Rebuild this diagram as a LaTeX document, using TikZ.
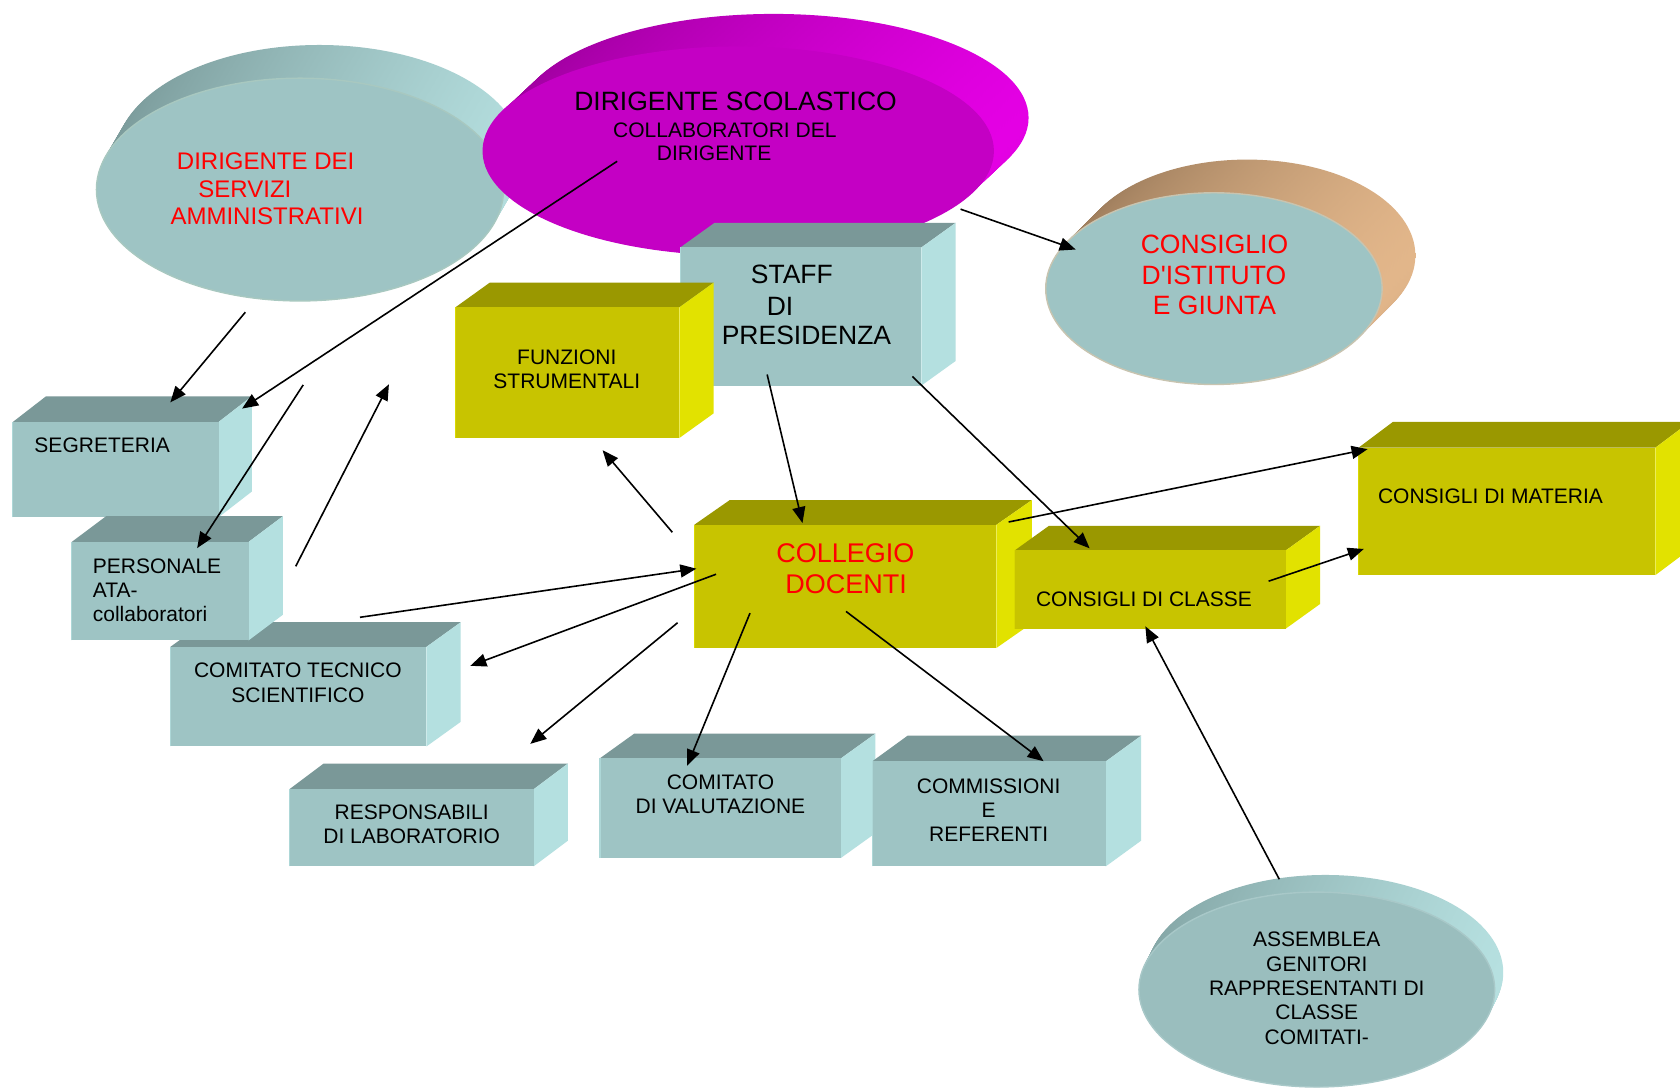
\documentclass[tikz,border=0pt]{standalone}
\usepackage{fontspec}
\setmainfont{Liberation Sans}
\usetikzlibrary{arrows.meta}
\definecolor{tF}{HTML}{9EC4C4}
\definecolor{tT}{HTML}{7A9898}
\definecolor{tS}{HTML}{B4E0E0}
\definecolor{yF}{HTML}{C8C400}
\definecolor{yT}{HTML}{9A9800}
\definecolor{yS}{HTML}{E2E200}
\definecolor{tealD}{HTML}{7A9A9A}
\definecolor{tealL}{HTML}{B4DEDE}
\definecolor{tealF}{HTML}{9EC4C4}
\definecolor{tealB}{HTML}{A8C8C0}
\definecolor{magD}{HTML}{9E009E}
\definecolor{magL}{HTML}{E400E4}
\definecolor{magF}{HTML}{C400C4}
\definecolor{magB}{HTML}{C400C4}
\definecolor{brnD}{HTML}{9A7A5A}
\definecolor{brnL}{HTML}{E2B68A}
\definecolor{brnF}{HTML}{9EC4C4}
\definecolor{brnB}{HTML}{C8C4B0}
\definecolor{assD}{HTML}{84A6A6}
\definecolor{assL}{HTML}{B6E0E0}
\definecolor{assF}{HTML}{9ABEBE}
\definecolor{assB}{HTML}{A8C8C8}
\definecolor{redtxt}{HTML}{FF0000}
% 3D box: x1,y1,x2,y2,dx,dy(up),palette
\newcommand\boxthreed[7]{%
  \fill[#7T] (#1,#2) -- (#1+#5,#2-#6) -- (#3+#5,#2-#6) -- (#3,#2) -- cycle;
  \fill[#7S] (#3,#2) -- (#3+#5,#2-#6) -- (#3+#5,#4-#6) -- (#3,#4) -- cycle;
  \fill[#7F] (#1,#2) rectangle (#3,#4);
  \draw[#7S!70!#7F, line width=1.2pt] (#1,#4) -- (#1,#2);
}
% cylinder ellipse: cx,cy,rx,ry,dx,dy(up),palette
\newcommand\cylell[7]{%
  \foreach \i in {0,...,24}{%
    \shade[left color=#7D, right color=#7L]
      ({#1+#5*(1-\i/24)},{#2-#6*(1-\i/24)}) ellipse [x radius=#3, y radius=#4];
  }
  \fill[#7F, draw=#7B, line width=1.4pt] (#1,#2) ellipse [x radius=#3, y radius=#4];
}
\begin{document}
\begin{tikzpicture}[x=1.0714pt,y=-1.0709pt,
  lblS/.style={inner sep=0pt, anchor=base, font=\fontsize{21}{24}\selectfont},
  lblB/.style={inner sep=0pt, anchor=base, font=\fontsize{26.5}{30}\selectfont},
  lblW/.style={anchor=base west},
  redt/.style={text=redtxt},
  arr/.style={-{Triangle[length=16pt,width=13pt]}, line width=1.6pt, black}]
\useasboundingbox (0,0) rectangle (1568,1016);
\fill[white] (0,0) rectangle (1568,1016);

% ellipses
\cylell{280}{177}{190}{104}{18}{31}{teal}
\cylell{689}{141}{238}{97}{33}{31}{mag}
\cylell{1133}{269.5}{157}{89.5}{31}{31}{brn}
\cylell{1229}{924}{166}{91}{8}{16}{ass}

% boxes
\boxthreed{635}{231}{860}{360}{32}{23}{t}
\boxthreed{425}{287}{634}{409}{32}{23}{y}
\boxthreed{12}{394}{204}{483}{31}{24}{t}
\boxthreed{159}{604}{398}{697}{32}{23}{t}
\boxthreed{67}{506}{232}{598}{32}{24}{t}
\boxthreed{270}{737}{498}{809}{32}{24}{t}
\boxthreed{560}{708}{785}{801}{32}{23}{t}
\boxthreed{814}{711}{1032}{809}{33}{24}{t}
\boxthreed{648}{490}{930}{605}{33}{23}{y}
\boxthreed{947}{514}{1200}{587}{32}{23}{y}
\boxthreed{1268}{418}{1545}{537}{32}{24}{y}

% texts
\node[lblB] (ds1) at (686.5,103.6) {DIRIGENTE SCOLASTICO};
\node[lblS] (ds2) at (676.5,128) {COLLABORATORI DEL};
\node[lblS] (ds3) at (666.5,150) {DIRIGENTE};

\node[lblB, lblW, redt, font=\fontsize{24}{28}\selectfont] (dsga1) at (165,158) {DIRIGENTE DEI};
\node[lblB, lblW, redt, font=\fontsize{24}{28}\selectfont] (dsga2) at (185,184) {SERVIZI};
\node[lblB, lblW, redt, font=\fontsize{24}{28}\selectfont] (dsga3) at (159,210) {AMMINISTRATIVI};

\node[lblB, redt] (ci1) at (1133.5,236.4) {CONSIGLIO};
\node[lblB, redt] (ci2) at (1133,265.4) {D\textquotesingle ISTITUTO};
\node[lblB, redt] (ci3) at (1133.5,293.4) {E GIUNTA};

\node[lblB, lblW] (st1) at (700.6,265) {STAFF};
\node[lblB, lblW] (st2) at (715.5,295) {DI};
\node[lblB, lblW] (st3) at (673.5,322) {PRESIDENZA};

\node[lblS] (fs1) at (529,340) {FUNZIONI};
\node[lblS] (fs2) at (529,362.7) {STRUMENTALI};

\node[lblB, redt, font=\fontsize{27}{31}\selectfont] (cd1) at (789,525) {COLLEGIO};
\node[lblB, redt, font=\fontsize{27}{31}\selectfont] (cd2) at (789.6,553.8) {DOCENTI};

\node[lblS, lblW] (seg) at (32,422.5) {SEGRETERIA};

\node[lblS, lblW] (pa1) at (86.5,535.7) {PERSONALE};
\node[lblS, lblW] (pa2) at (86.5,558) {ATA-};
\node[lblS, lblW] (pa3) at (86.5,580.6) {collaboratori};

\node[lblS] (cts1) at (278,632.4) {COMITATO TECNICO};
\node[lblS] (cts2) at (278,655.8) {SCIENTIFICO};

\node[lblS] (rl1) at (384.2,765.1) {RESPONSABILI};
\node[lblS] (rl2) at (384.2,787.8) {DI LABORATORIO};

\node[lblS] (cv1) at (672.4,737) {COMITATO};
\node[lblS] (cv2) at (672.4,759.7) {DI VALUTAZIONE};

\node[lblS] (cr1) at (922.7,740.9) {COMMISSIONI};
\node[lblS] (cr2) at (922.7,763.6) {E};
\node[lblS] (cr3) at (922.7,786.2) {REFERENTI};

\node[lblS] (cc) at (1067.7,566.5) {CONSIGLI DI CLASSE};
\node[lblS, lblW] (cm) at (1286,470.2) {CONSIGLI DI MATERIA};

\node[lblS] (as1) at (1229,884) {ASSEMBLEA};
\node[lblS] (as2) at (1229,906.7) {GENITORI};
\node[lblS] (as3) at (1229,929.7) {RAPPRESENTANTI DI};
\node[lblS] (as4) at (1229,952.4) {CLASSE};
\node[lblS] (as5) at (1229,975) {COMITATI-};

% connector end points
\coordinate (a0) at (229,291.5);   \coordinate (a1) at (159,375.7);
\coordinate (b0) at (576,150.6);   \coordinate (b1) at (226,381.5);
\coordinate (c0) at (283,359.4);   \coordinate (c1) at (184,511.8);
\coordinate (d0) at (276,528.8);   \coordinate (d1) at (363,358.8);
\coordinate (e0) at (627.5,497);   \coordinate (e1) at (562.4,420.4);
\coordinate (f0) at (716,349.7);   \coordinate (f1) at (749,488.4);
\coordinate (g0) at (851.5,351.5); \coordinate (g1) at (1017,512);
\coordinate (h0) at (896.5,195.3); \coordinate (h1) at (1004,233);
\coordinate (i0) at (941.4,487.4); \coordinate (i1) at (1276.4,419.4);
\coordinate (j0) at (1184,542.7);  \coordinate (j1) at (1272.9,512.6);
\coordinate (k0) at (1194,821);    \coordinate (k1) at (1069,584.8);
\coordinate (l0) at (336,576.4);   \coordinate (l1) at (649.9,531);
\coordinate (m0) at (668.3,536.2); \coordinate (m1) at (439,621.7);
\coordinate (n0) at (632.4,581.5); \coordinate (n1) at (494.9,694.6);
\coordinate (o0) at (700,572.5);   \coordinate (o1) at (641.4,715);
\coordinate (p0) at (789.6,570.9); \coordinate (p1) at (974,710.8);

\foreach \s in {a,b,c,d,e,f,g,h,i,j,k,l,m,n,o,p}{
  \draw[arr] (\s0) -- (\s1);
}
\end{tikzpicture}
\end{document}
